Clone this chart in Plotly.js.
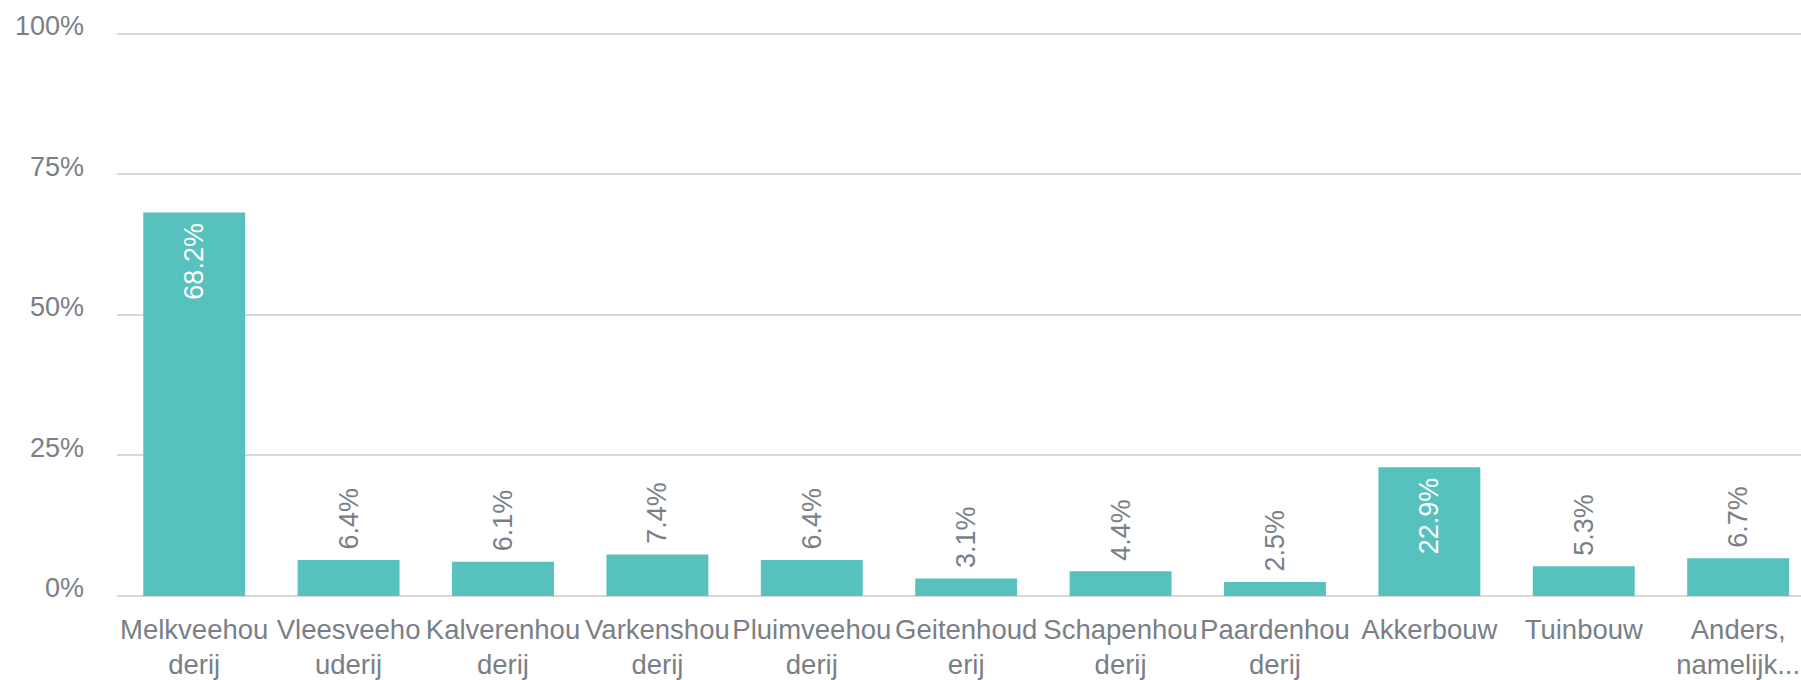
<!DOCTYPE html>
<html>
<head>
<meta charset="utf-8">
<script src="https://cdn.plot.ly/plotly-3.0.1.min.js"></script>
<style>html,body{margin:0;padding:0;background:#fff;}#chart{width:1801px;height:680px;}</style>
</head>
<body>
<div id="chart"></div>
<script>
const categories = ["Melkveehouderij","Vleesveehouderij","Kalverenhouderij","Varkenshouderij","Pluimveehouderij","Geitenhouderij","Schapenhouderij","Paardenhouderij","Akkerbouw","Tuinbouw","Anders, namelijk..."];
const tickLabels = ["Melkveehou<br>derij","Vleesveeho<br>uderij","Kalverenhou<br>derij","Varkenshou<br>derij","Pluimveehou<br>derij","Geitenhoud<br>erij","Schapenhou<br>derij","Paardenhou<br>derij","Akkerbouw","Tuinbouw","Anders,<br>namelijk..."];
const percentages = [68.2, 6.4, 6.1, 7.4, 6.4, 3.1, 4.4, 2.5, 22.9, 5.3, 6.7];
const yTicks = [0, 25, 50, 75, 100];
const yTickLabels = ["0%", "25%", "50%", "75%", "100%"];

const font = "Liberation Sans, Arial, sans-serif";
const grey = "#7a7f87";
const teal = "#57c1be";
const NB = "\u00a0";

const isInside = percentages.map(v => v > 15);
const positions = isInside.map(b => b ? "inside" : "outside");
const textColors = isInside.map(b => b ? "#ffffff" : grey);
const templates = isInside.map(b => b ? "%{y:.1f}%" + NB : NB + "%{y:.1f}%");

const trace = {
  type: "bar",
  x: categories,
  y: percentages,
  marker: {color: teal, line: {width: 0}},
  texttemplate: templates,
  textposition: positions,
  insidetextanchor: "end",
  textangle: -90,
  cliponaxis: false,
  constraintext: "none",
  textfont: {family: font, size: 27, color: textColors},
  hoverinfo: "skip"
};

const layout = {
  width: 1801,
  height: 680,
  margin: {l: 117, r: 0, t: 31, b: 84, pad: 0},
  paper_bgcolor: "#ffffff",
  plot_bgcolor: "#ffffff",
  showlegend: false,
  bargap: 0.34,
  font: {family: font, size: 27, color: grey},
  xaxis: {
    type: "category",
    tickvals: categories,
    ticktext: tickLabels,
    range: [-0.5, 10.407],
    tickangle: 0,
    ticks: "",
    showgrid: false,
    zeroline: false,
    showline: false,
    automargin: false,
    ticklabelstandoff: 14,
    tickfont: {family: font, size: 27.5, color: grey}
  },
  yaxis: {
    range: [0, 100.5],
    tickvals: yTicks,
    ticktext: yTickLabels,
    showgrid: true,
    gridcolor: "#d9d9d9",
    gridwidth: 2,
    zeroline: true,
    zerolinecolor: "#d9d9d9",
    zerolinewidth: 2,
    showline: false,
    ticks: "",
    ticklabelstandoff: 32,
    ticklabelshift: -8,
    automargin: false,
    tickfont: {family: font, size: 27, color: grey}
  }
};

Plotly.newPlot("chart", [trace], layout, {displayModeBar: false, staticPlot: true});
</script>
</body>
</html>
